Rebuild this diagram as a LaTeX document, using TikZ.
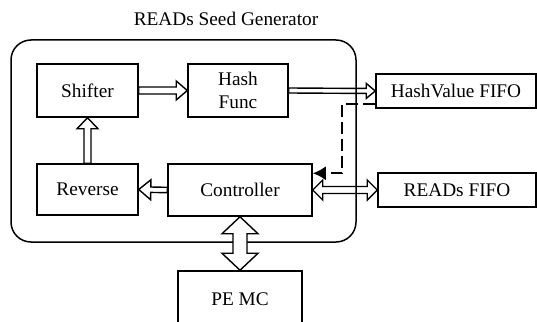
\documentclass[tikz,border=0pt]{standalone}
\usepackage{fontspec}
\setmainfont{Liberation Serif}
\usetikzlibrary{calc,arrows.meta}

% Outlined single-headed block arrow from #2 (tail) to #3 (tip):
% #4 shaft half-width, #5 head half-width, #6 head length
\newcommand\hollowarrow[6][]{%
  \coordinate (hA) at (#2);
  \coordinate (hB) at (#3);
  \coordinate (hC) at ($(hB)!#6!(hA)$);
  \draw[arrowline,#1]
    ($(hA)!#4!90:(hB)$) -- ($(hC)!#4!90:(hB)$) -- ($(hC)!#5!90:(hB)$) -- (hB)
    -- ($(hC)!#5!-90:(hB)$) -- ($(hC)!#4!-90:(hB)$) -- ($(hA)!#4!-90:(hB)$) -- cycle;
}
% Outlined double-headed block arrow between #2 and #3
\newcommand\hollowdarrow[6][]{%
  \coordinate (hA) at (#2);
  \coordinate (hB) at (#3);
  \coordinate (hCa) at ($(hA)!#6!(hB)$);
  \coordinate (hCb) at ($(hB)!#6!(hA)$);
  \draw[arrowline,#1]
    (hA) -- ($(hCa)!#5!90:(hB)$) -- ($(hCa)!#4!90:(hB)$) -- ($(hCb)!#4!90:(hB)$)
    -- ($(hCb)!#5!90:(hB)$) -- (hB) -- ($(hCb)!#5!-90:(hB)$) -- ($(hCb)!#4!-90:(hB)$)
    -- ($(hCa)!#4!-90:(hB)$) -- ($(hCa)!#5!-90:(hB)$) -- cycle;
}

\tikzset{
  txt/.style={font=\fontsize{19.3}{22.5}\selectfont},
  blk/.style={txt, draw, line width=1.5pt, inner sep=0pt, align=center},
  arrowline/.style={line width=1.4pt, line join=miter},
  dashflow/.style={line width=2pt, dash pattern=on 12pt off 5pt,
    -{Latex[length=13pt,width=14pt]}},
}

\begin{document}
\begin{tikzpicture}[x=1pt,y=-1pt]
  \useasboundingbox (0,0) rectangle (537,321);
  \clip (0,0) rectangle (537,321);

  % generator enclosure and its title
  \node[draw, line width=1.5pt, rounded corners=20pt, minimum width=345pt,
        minimum height=202pt, inner sep=0pt] (gen) at (183.5,141) {};
  \node[txt, anchor=base] (title) at (226,26) {READs Seed Generator};

  % blocks
  \node[blk, minimum width=101pt, minimum height=53pt] (shifter) at (87.5,90.5) {Shifter};
  \node[blk, minimum width=100pt, minimum height=53pt] (hash) at (238,90.5) {Hash\\Func};
  \node[blk, minimum width=160pt, minimum height=34pt] (hv) at (456,91) {HashValue FIFO};
  \node[blk, minimum width=101pt, minimum height=51pt] (reverse) at (87.5,189.5) {Reverse};
  \node[blk, minimum width=144pt, minimum height=52pt] (ctrl) at (240,190) {Controller};
  \node[blk, minimum width=158pt, minimum height=34pt] (reads) at (457,190) {READs FIFO};
  \node[blk, minimum width=124pt, minimum height=56pt] (pemc) at (240,299) {PE MC};

  % data-path arrows
  \hollowarrow{shifter.east}{hash.west}{3.5pt}{9.5pt}{11pt}
  \hollowarrow{hash.east}{hv.west}{2.5pt}{7.5pt}{9pt}
  \hollowarrow{reverse.north}{shifter.south}{3.5pt}{10.5pt}{11pt}
  \hollowarrow{ctrl.west}{reverse.east}{2.7pt}{10pt}{12pt}
  \hollowdarrow{ctrl.east}{reads.west}{3.5pt}{10pt}{10pt}
  \hollowdarrow[fill=white]{ctrl.south}{pemc.north}{7pt}{18pt}{17pt}

  % status feedback from the hash FIFO to the controller
  \coordinate (fb) at ($(hv.south west)+(0,-5)$);
  \draw[dashflow] (fb) -- ++(-33,0) |- ($(ctrl.north east)+(0,10)$);
\end{tikzpicture}
\end{document}
